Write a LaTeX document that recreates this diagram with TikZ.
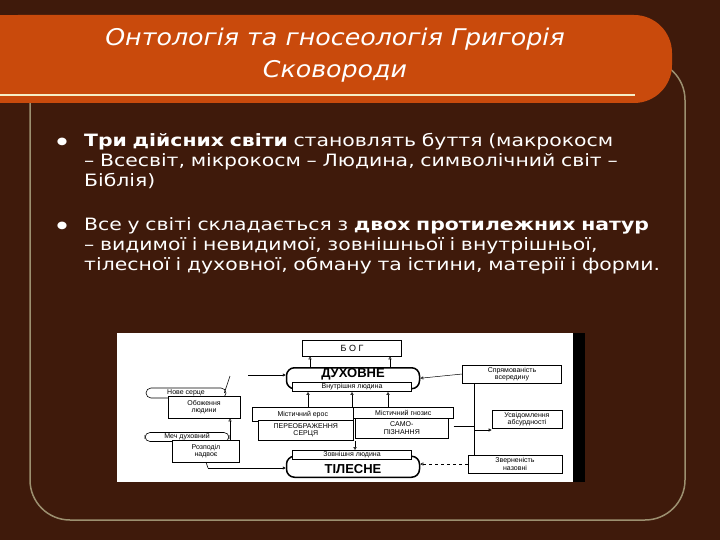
\documentclass[tikz,border=0pt]{standalone}
\usepackage{fontspec}
\setmainfont{DejaVu Sans}[FakeStretch=1.2]
\newfontfamily\titlef{DejaVu Sans}[FakeStretch=1.1]
\newfontfamily\smallf{Liberation Sans}
\usetikzlibrary{arrows.meta}
\definecolor{bgd}{HTML}{3F1A0B}
\definecolor{ban}{HTML}{C94A0C}
\definecolor{bord}{HTML}{9C9070}
\definecolor{cream}{HTML}{F6EFC8}
\begin{document}
\begin{tikzpicture}[x=1pt,y=-1pt,
 bx/.style={draw,line width=0.6pt,inner sep=0.5pt,font=\smallf\fontsize{7}{7.5}\selectfont,align=center},
 big/.style={draw,line width=1.5pt,rounded corners=8pt,minimum width=133pt,minimum height=21pt},
 bigt/.style={font=\smallf\bfseries\fontsize{13}{13}\selectfont,inner sep=0pt},
 up/.style={-{Triangle[open,length=3pt,width=3pt]},line width=0.5pt},
 ln/.style={line width=0.6pt}]
\useasboundingbox (0,0) rectangle (720,540);
\fill[bgd] (0,0) rectangle (720,540);
\draw[bord,line width=1.5pt,rounded corners=40pt] (30,100) -- (30,520) -- (685,520) -- (685,60) -- (600,60);
\fill[ban,rounded corners=38pt] (-20,15) rectangle (672,103);
\fill[ban] (-5,15) rectangle (40,103);
\draw[cream,line width=2pt] (0,95) -- (635,95);
\node[font=\titlef\itshape\fontsize{23}{32}\selectfont,text=white,align=center] (t) at (335,55) {Онтологія та гносеологія Григорія\\Сковороди};
\node[font=\fontsize{10}{10}\selectfont,text=white] (b1) at (62,142) {●};
\node[font=\fontsize{10}{10}\selectfont,text=white] (b2) at (62,226) {●};
\node[anchor=north west,text=white,font=\fontsize{17}{20}\selectfont,text width=584pt,align=left,inner sep=0pt] (p1) at (84,133) {\textbf{Три дійсних світи} становлять буття (макрокосм – Всесвіт, мікрокосм – Людина, символічний світ – Біблія)};
\node[anchor=north west,text=white,font=\fontsize{17}{20}\selectfont,text width=584pt,align=left,inner sep=0pt] (p2) at (84,217) {Все у світі складається з \textbf{двох протилежних натур} – видимої і невидимої, зовнішньої і внутрішньої, тілесної і духовної, обману та істини, матерії і форми.};
% embedded picture
\fill[white] (117,333) rectangle (573,482);
\fill[black] (573,333) rectangle (585,482);
\node[bx,minimum width=99pt,minimum height=16pt,font=\smallf\fontsize{9}{9}\selectfont] (bog) at (352,348) {Б О Г};
\node[big,anchor=north] (dux) at (353,367) {};
\node[bigt] (duxt) at (353,374) {ДУХОВНЕ};
\node[bx,fill=white,minimum width=119pt,minimum height=9pt] (vnut) at (352,387) {Внутрішня людина};
\node[bx,minimum width=99pt,minimum height=18pt] (spr) at (512,374) {Спрямованість\\всередину};
\node[bx,inner sep=0pt,minimum width=80pt,minimum height=10pt,rounded corners=5pt] (nove) at (186,393) {Нове серце};
\node[bx,minimum width=72pt,minimum height=22pt,fill=white] (obo) at (204,407) {Обоження\\людини};
\node[bx,minimum width=101pt,minimum height=14pt,anchor=north west] (eros) at (252,407) {Містичний ерос};
\node[bx,minimum width=100pt,minimum height=11pt,anchor=north west] (gno) at (353,407) {Містичний гнозис};
\node[bx,minimum width=95pt,minimum height=20pt,anchor=north west,fill=white] (pere) at (258,420) {ПЕРЕОБРАЖЕННЯ\\СЕРЦЯ};
\node[bx,minimum width=93pt,minimum height=20pt,anchor=north west,fill=white] (samo) at (355,418) {САМО-\\ПІЗНАННЯ};
\node[bx,minimum width=70pt,minimum height=18pt] (usv) at (527,419) {Усвідомлення\\абсурдності};
\node[bx,rounded corners=5pt,minimum width=84pt,minimum height=9pt,inner sep=0pt] (mech) at (187,437) {Меч духовний};
\node[bx,minimum width=67pt,minimum height=22pt,fill=white] (rozp) at (206,451) {Розподіл\\надвоє};
\node[big,anchor=south] (til) at (353,478) {};
\node[bigt] (tilt) at (353,469) {ТІЛЕСНЕ};
\node[bx,fill=white,minimum width=119pt,minimum height=9pt] (zov) at (352,455) {Зовнішня людина};
\node[bx,minimum width=94pt,minimum height=18pt] (zve) at (515,464) {Зверненість\\назовні};
% connectors
\draw[up] (dux.north -| 310,0) -- (bog.south -| 310,0);
\draw[up] (dux.north -| 390,0) -- (bog.south -| 390,0);
\draw[up] (eros.north -| 308,0) -- (vnut.south -| 308,0);
\draw[up] (eros.north -| 352,0) -- (vnut.south -| 352,0);
\draw[up] (gno.north -| 388,0) -- (vnut.south -| 388,0);
\draw[up] (rozp.north -| 230,0) -- (obo.south -| 230,0);
\draw[up] (pere.south -| 355,0) -- (zov.north -| 355,0);
\draw[up] (spr.west) -- (dux.east);
\coordinate (vx1) at (474,383);
\coordinate (vx2) at (474,455);
\draw[ln] (vx1) -- (vx2);
\draw[ln,-{Triangle[open,length=3pt,width=3pt]}] (474,430) coordinate (g1) -- (usv.west |- g1);
\draw[ln] (gno.south east) ++(0,8) coordinate (g2) -- (474,0 |- g2);
\draw[dashed,-{Triangle[open,length=3pt,width=3pt]},line width=0.5pt] (zve.west) -- (til.east |- zve.west);
\coordinate (lt) at (230,376);
\draw[ln] (nove.east) ++(-2,0) -- (lt);
\draw[ln,-{Triangle[open,length=3pt,width=3pt]}] (248,375) -- (dux.west |- 0,375);
\coordinate (rb) at (208,468);
\draw[ln] (rozp.south) -- (rb);
\draw[ln,-{Triangle[open,length=3pt,width=3pt]}] (rb) -- (til.west |- rb);
\end{tikzpicture}
\end{document}
